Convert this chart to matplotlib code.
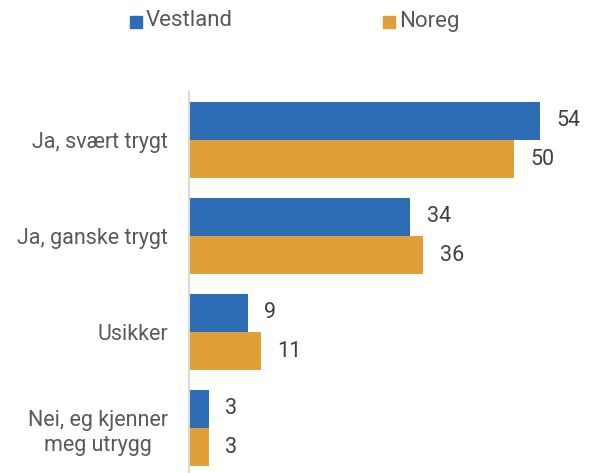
import matplotlib
matplotlib.use("Agg")
import matplotlib.pyplot as plt
from matplotlib.patches import Rectangle

categories = ["Ja, svært trygt", "Ja, ganske trygt", "Usikker", "Nei, eg kjenner\nmeg utrygg"]
series_names = ["Vestland", "Noreg"]
vestland = [54, 34, 9, 3]
noreg = [50, 36, 11, 3]

BLUE = "#2D6DB5"
ORANGE = "#E0A037"
TEXT = "#595959"

plt.rcParams["font.family"] = ["Roboto", "DejaVu Sans"]

W, H = 595, 473
fig = plt.figure(figsize=(W / 100, H / 100), dpi=100)
ax = fig.add_axes([189 / W, (H - 476) / H, 390 / W, 384 / H])

n = len(categories)
bar_h = 0.4
ys = list(range(n))
for vals, color, off in ((vestland, BLUE, -bar_h / 2), (noreg, ORANGE, bar_h / 2)):
    pos = [y + off for y in ys]
    ax.barh(pos, vals, height=bar_h, color=color, edgecolor="none")
    for p, v in zip(pos, vals):
        ax.annotate(str(v), xy=(v, p), xytext=(12, 0), textcoords="offset points",
                    va="center", ha="left", fontsize=15.5, color="#404040")

ax.set_xlim(0, 60)
ax.set_ylim(n - 0.5, -0.5)
ax.set_yticks(ys)
ax.set_yticklabels(categories, fontsize=15.5, color=TEXT, multialignment="center",
                   linespacing=1.3)
ax.tick_params(axis="y", length=0, pad=15)
ax.set_xticks([])
for s in ("top", "right", "bottom"):
    ax.spines[s].set_visible(False)
ax.spines["left"].set_color("#D9D9D9")
ax.spines["left"].set_linewidth(1.5)

# legend drawn along the top
for name, color, x in zip(series_names, (BLUE, ORANGE), (130, 383)):
    fig.patches.append(Rectangle((x / W, (H - 28) / H), 12 / W, 12 / H,
                                 transform=fig.transFigure, color=color))
    fig.text((x + 16) / W, (H - 21) / H, name, fontsize=16, color=TEXT,
             va="center", ha="left")

fig.savefig("out.png", dpi=100)
